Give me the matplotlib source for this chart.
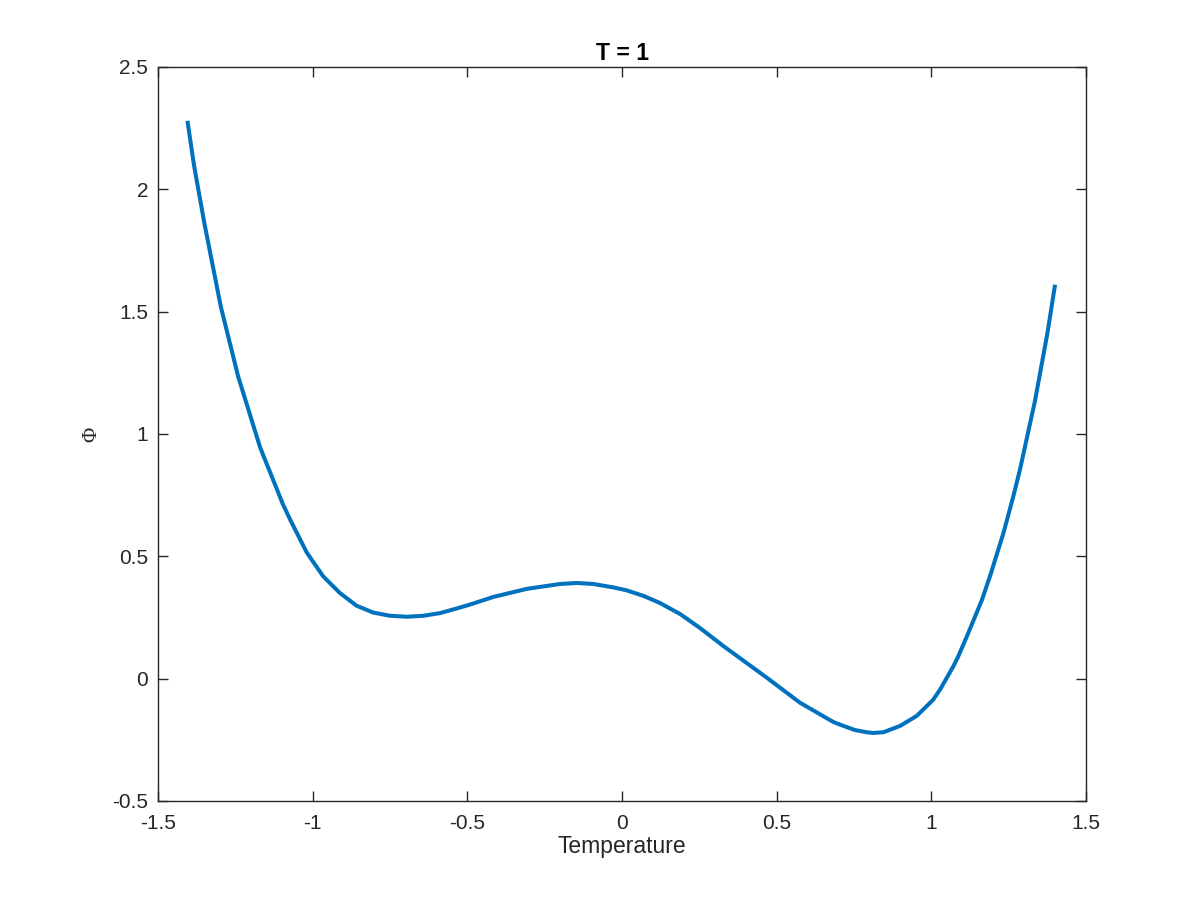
import matplotlib
matplotlib.use("Agg")
import matplotlib.pyplot as plt
from matplotlib.ticker import FuncFormatter

temperature = [-1.405, -1.384, -1.350, -1.297, -1.241, -1.170, -1.097, -1.073, -1.019, -0.966,
               -0.912, -0.858, -0.804, -0.750, -0.696, -0.642, -0.588, -0.534, -0.491, -0.416,
               -0.308, -0.200, -0.146, -0.093, -0.028, 0.015, 0.070, 0.123, 0.188, 0.250,
               0.328, 0.468, 0.575, 0.683, 0.705, 0.753, 0.791, 0.812, 0.845, 0.899,
               0.953, 1.006, 1.028, 1.071, 1.087, 1.114, 1.163, 1.190, 1.233, 1.265,
               1.287, 1.335, 1.375, 1.400]
phi = [2.28, 2.10, 1.86, 1.52, 1.235, 0.945, 0.715, 0.650, 0.515, 0.418,
       0.350, 0.298, 0.270, 0.257, 0.253, 0.257, 0.268, 0.287, 0.303, 0.334,
       0.367, 0.387, 0.391, 0.387, 0.373, 0.361, 0.338, 0.309, 0.264, 0.209,
       0.133, 0.004, -0.098, -0.177, -0.188, -0.210, -0.219, -0.222, -0.219, -0.193,
       -0.152, -0.086, -0.045, 0.050, 0.091, 0.170, 0.320, 0.420, 0.595, 0.745,
       0.857, 1.135, 1.41, 1.610]

xticks = [-1.5, -1, -0.5, 0, 0.5, 1, 1.5]
yticks = [-0.5, 0, 0.5, 1, 1.5, 2, 2.5]

plt.rcParams['font.family'] = ['Liberation Sans', 'DejaVu Sans']
plt.rcParams['axes.unicode_minus'] = False

fig = plt.figure(figsize=(12, 9), dpi=100)
ax = fig.add_axes([0.1317, 0.11, 0.7733, 0.8156])
ax.plot(temperature, phi, color='#0072BD', linewidth=2.9,
        solid_joinstyle='round', solid_capstyle='butt')
ax.set_xlim(-1.5, 1.5)
ax.set_ylim(-0.5, 2.5)
ax.set_xticks(xticks)
ax.set_yticks(yticks)
fmt = FuncFormatter(lambda v, p: '%g' % v)
ax.xaxis.set_major_formatter(fmt)
ax.yaxis.set_major_formatter(fmt)
ax.tick_params(direction='in', length=7.2, width=1.0, colors='#262626',
               labelsize=15, top=True, right=True)
ax.tick_params(axis='x', pad=9.5)
ax.tick_params(axis='y', pad=7)
for s in ax.spines.values():
    s.set_color('#262626')
    s.set_linewidth(1.0)
ax.set_title('T = 1', fontsize=16.5, fontweight='bold', color='black', pad=5)
ax.set_xlabel('Temperature', fontsize=16.5, color='#262626', labelpad=1.5)
ax.set_ylabel('Φ', fontsize=15, color='#262626',
              family=['Liberation Serif', 'DejaVu Serif'], labelpad=8)
fig.savefig('out.png', dpi=100)
